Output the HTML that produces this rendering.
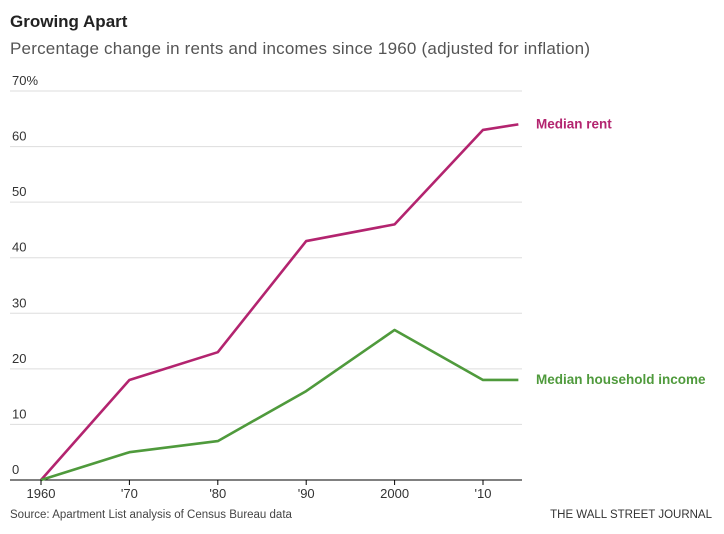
<!DOCTYPE html>
<html><head><meta charset="utf-8"><style>
body{margin:0;background:#fff;font-family:"Liberation Sans",sans-serif;}
svg{display:block}
</style></head><body>
<svg width="724" height="534">
<text x="10" y="27" font-size="17" font-weight="bold" fill="#222">Growing Apart</text>
<text x="10" y="54" font-size="17" fill="#555" textLength="580">Percentage change in rents and incomes since 1960 (adjusted for inflation)</text>
<g id="grid"></g><g id="lines"></g><g id="xt"></g>
<text x="10" y="518" font-size="11.5" fill="#444">Source: Apartment List analysis of Census Bureau data</text>
<text x="712" y="518" font-size="11.5" fill="#333" text-anchor="end">THE WALL STREET JOURNAL</text>
</svg>
<script>
const years=[1960,1970,1980,1990,2000,2010,2014];
const rent=[0,18,23,43,46,63,64];
const income=[0,5,7,16,27,18,18];
const yTicks=[0,10,20,30,40,50,60,70];
const xTickYears=[1960,1970,1980,1990,2000,2010];
const xTickLabels=["1960","'70","'80","'90","2000","'10"];
const NS="http://www.w3.org/2000/svg";
const X=y=>41+(y-1960)*8.84, Y=v=>480-v*5.557;
function mk(t,a,p){const e=document.createElementNS(NS,t);for(const k in a)e.setAttribute(k,a[k]);p.appendChild(e);return e;}
const g=document.getElementById('grid');
yTicks.forEach(v=>{
 const l=mk('line',{x1:10,x2:522,y1:Y(v),y2:Y(v),stroke:v?'#ddd':'#000','stroke-width':1},g);
 
 
 const t=mk('text',{x:12,y:Y(v)-6,'font-size':13,fill:'#333'},g);
 t.textContent=v===70?'70%':v;
 
 
});
const xt=document.getElementById('xt');
xTickYears.forEach((y,i)=>{
 const l=mk('line',{x1:X(y),x2:X(y),y1:480,y2:485,stroke:'#000'},xt);
 
 
 const t=mk('text',{x:X(y),y:498,'font-size':13,fill:'#333','text-anchor':'middle'},xt);
 t.textContent=xTickLabels[i];
 
 
});
const lg=document.getElementById('lines');
[[rent,'#b3246f','rent-line','Median rent'],[income,'#4f9a3c','income-line','Median household income']].forEach(s=>{
 const p=mk('polyline',{points:years.map((y,i)=>X(y)+','+Y(s[0][i])).join(' '),fill:'none',stroke:s[1],'stroke-width':2.6,'stroke-linejoin':'round'},lg);
 
 
 const last=s[0][s[0].length-1];
 const t=mk('text',{x:536,y:Y(last)+4,'font-size':13.5,'font-weight':'bold',fill:s[1]},lg);
 t.textContent=s[3];
 
 
});
</script>
</body></html>
